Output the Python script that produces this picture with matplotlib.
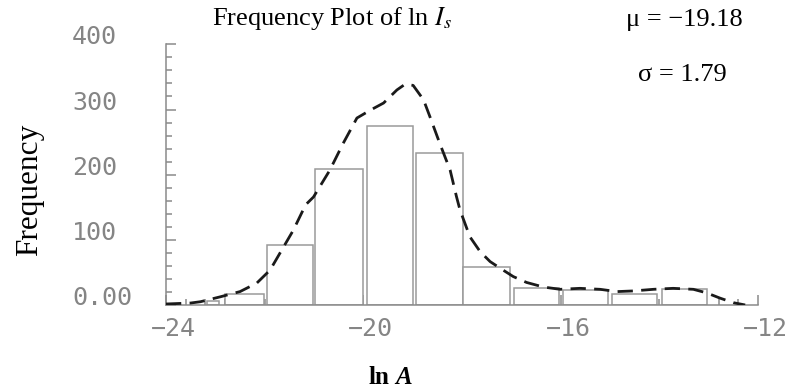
import numpy as np
import matplotlib
matplotlib.use("Agg")
import matplotlib.pyplot as plt
from matplotlib.ticker import MultipleLocator
from matplotlib.transforms import ScaledTranslation

# ----------------------------------------------------------------------
# Data
# ----------------------------------------------------------------------
bar_left = [-23.17, -22.80, -21.96, -20.97, -19.93, -18.94, -17.97, -16.95, -15.95, -14.96, -13.95]
bar_right = [-22.92, -22.01, -21.03, -20.01, -18.99, -17.98, -17.03, -16.04, -15.05, -14.05, -13.03]
bar_height = [6, 17, 93, 209, 275, 233, 59, 26, 23, 17, 25]

curve_x = [-24.0, -23.5, -23.3, -22.9, -22.5, -22.16, -21.89, -21.69, -21.42, -21.17,
           -21.01, -20.68, -20.41, -20.13, -19.86, -19.59, -19.32, -19.15, -18.99, -18.78,
           -18.65, -18.45, -18.24, -18.11, -18.04, -17.84, -17.63, -17.43, -17.23, -16.96,
           -16.69, -16.35, -16.01, -15.61, -15.2, -14.86, -14.53, -14.12, -13.72, -13.31,
           -13.04, -12.77, -12.5, -12.26]
curve_y = [2, 3.5, 5.5, 13, 21, 34, 54, 80, 115, 154,
           166, 207, 248, 287, 299, 310, 330, 339, 337, 315,
           289, 248, 207, 166, 146, 105, 82, 67, 57, 44,
           35, 28, 24.5, 26, 24.5, 21, 22, 24.5, 26, 24.5,
           19, 11, 4, 0.5]

x_ticks = [-24, -20, -16, -12]
x_tick_labels = ["\u221224", "\u221220", "\u221216", "\u221212"]
y_ticks = [0, 100, 200, 300, 400]
y_tick_labels = ["0.00", "100", "200", "300", "400"]

mu_text = "\u03bc = \u221219.18"
sigma_text = "\u03c3 = 1.79"

# ----------------------------------------------------------------------
# Figure
# ----------------------------------------------------------------------
W, H = 796, 388
fig = plt.figure(figsize=(W / 100, H / 100), dpi=100)
ax = fig.add_axes([166 / W, 1 - 305.3 / H, 592 / W, 261 / H])

GRAY = "#8a8a8a"
serif = ["Liberation Serif", "DejaVu Serif"]
plt.rcParams["mathtext.fontset"] = "stix"

widths = np.array(bar_right) - np.array(bar_left)
ax.bar(bar_left, bar_height, width=widths, align="edge",
       facecolor="white", edgecolor="#9a9a9a", linewidth=1.1, zorder=2)

ax.plot(curve_x, curve_y, color="#1a1a1a", linewidth=2.0,
        linestyle=(0, (5.5, 3)), zorder=3, solid_capstyle="butt")

ax.set_xlim(-24, -12)
ax.set_ylim(0, 400)

for side in ["top", "right"]:
    ax.spines[side].set_visible(False)
for side in ["left", "bottom"]:
    ax.spines[side].set_color(GRAY)
    ax.spines[side].set_linewidth(1.1)

ax.xaxis.set_major_locator(MultipleLocator(4))
ax.xaxis.set_minor_locator(MultipleLocator(0.4))
ax.yaxis.set_major_locator(MultipleLocator(100))
ax.yaxis.set_minor_locator(MultipleLocator(20))
ax.tick_params(which="both", direction="in", color=GRAY, width=1.1,
               labelbottom=False, labelleft=False)
ax.tick_params(which="major", length=7)
ax.tick_params(which="minor", length=4)

# tick labels, placed the way the reference has them
mono = "DejaVu Sans Mono"
TICK_COLOR = "#858585"
for v, lab in zip(x_ticks, x_tick_labels):
    off = ScaledTranslation(7.5 / 100, -12 / 100, fig.dpi_scale_trans)
    ax.text(v, 0, lab, transform=ax.get_xaxis_transform() + off,
            ha="center", va="top", fontsize=18, family=mono, color=TICK_COLOR)
for v, lab in zip(y_ticks, y_tick_labels):
    off = ScaledTranslation(-94 / 100, 0, fig.dpi_scale_trans)
    ax.text(0, v, lab, transform=ax.get_yaxis_transform() + off,
            ha="left", va="baseline", fontsize=18, family=mono, color=TICK_COLOR)

# ----------------------------------------------------------------------
# Texts
# ----------------------------------------------------------------------
fig.text(332 / W, 1 - 19 / H, r"Frequency Plot of ln $I_s$", ha="center", va="center",
         fontsize=19, family=serif)
fig.text(684 / W, 1 - 20 / H, mu_text, ha="center", va="center", fontsize=19, family=serif)
fig.text(682 / W, 1 - 75 / H, sigma_text, ha="center", va="center", fontsize=19, family=serif)
fig.text(30 / W, 1 - 190 / H, "Frequency", rotation=90, ha="center", va="center",
         fontsize=22.5, family=serif)
fig.text(389 / W, 1 - 377 / H, "ln", ha="right", va="center", fontsize=18,
         family=serif, weight="bold")
fig.text(395 / W, 1 - 377 / H, "A", ha="left", va="center", fontsize=18,
         family=serif, weight="bold", style="italic")

fig.savefig("out.png", dpi=100)
